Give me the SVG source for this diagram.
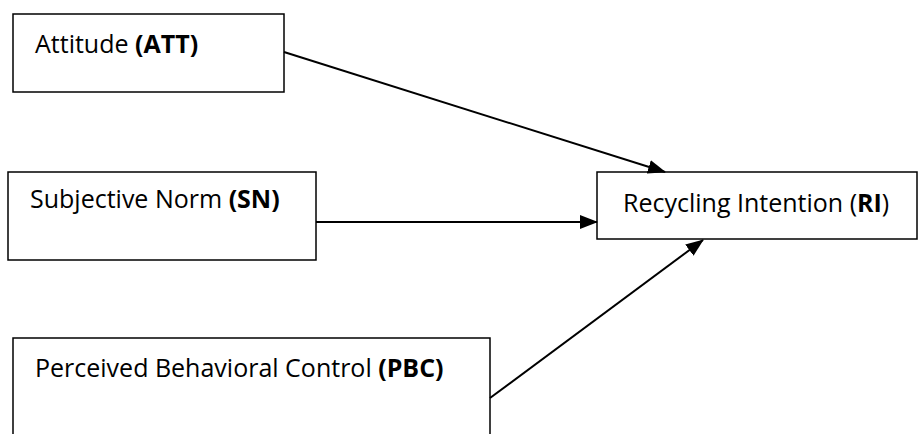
<svg xmlns="http://www.w3.org/2000/svg" width="918" height="434" viewBox="0 0 918 434">
  <style>
    .box { fill: #ffffff; stroke: #000000; stroke-width: 1.5; }
    .lbl { font-family: "Open Sans", "Noto Sans", sans-serif; font-size: 25px; fill: #000000; }
    .b { font-weight: bold; }
    .conn { stroke: #000000; stroke-width: 2; fill: none; marker-end: url(#arrow); }
  </style>
  <defs>
    <marker id="arrow" markerUnits="userSpaceOnUse" markerWidth="18" markerHeight="14" refX="17" refY="7" orient="auto">
      <path d="M0,0 L18,7 L0,14 z" fill="#000000"/>
    </marker>
  </defs>
  <rect width="918" height="434" fill="#ffffff"/>
  <g id="node-att">
    <rect class="box" x="13" y="14" width="271" height="78"/>
    <text class="lbl" x="35" y="53">Attitude <tspan class="b">(ATT)</tspan></text>
  </g>
  <g id="node-sn">
    <rect class="box" x="8" y="172" width="308" height="88"/>
    <text class="lbl" x="30" y="208">Subjective Norm <tspan class="b">(SN)</tspan></text>
  </g>
  <g id="node-pbc">
    <rect class="box" x="13" y="338" width="477" height="110"/>
    <text class="lbl" x="35" y="377">Perceived Behavioral Control <tspan class="b">(PBC)</tspan></text>
  </g>
  <g id="node-ri">
    <rect class="box" x="597" y="172" width="320" height="67"/>
    <text class="lbl" x="623" y="212">Recycling Intention (<tspan class="b">RI</tspan>)</text>
  </g>
  <g id="connectors">
    <line class="conn" x1="284" y1="52" x2="665" y2="172"/>
    <line class="conn" x1="316" y1="222" x2="597" y2="222"/>
    <line class="conn" x1="490" y1="398" x2="703" y2="240"/>
  </g>
</svg>
